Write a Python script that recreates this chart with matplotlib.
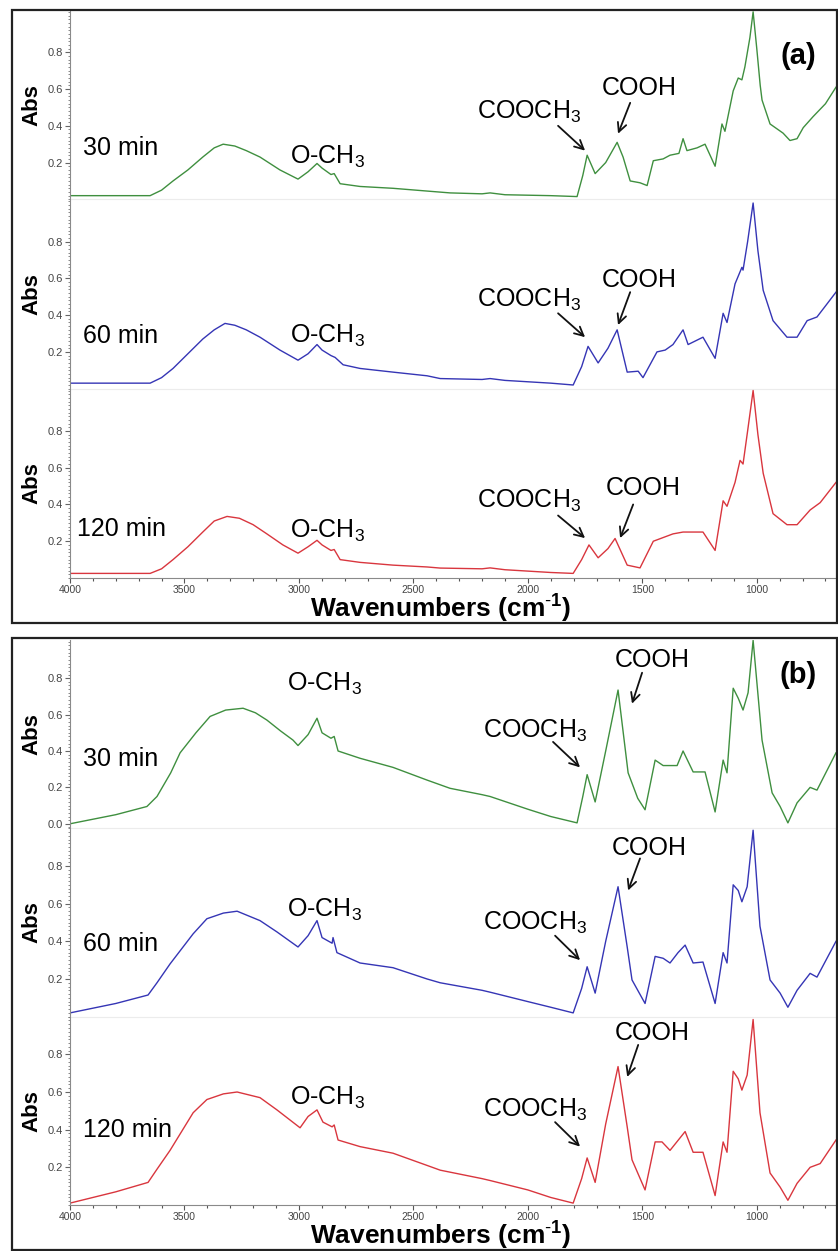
import matplotlib
matplotlib.use('Agg')
import matplotlib.pyplot as plt
from matplotlib.patches import Rectangle
from matplotlib.ticker import MultipleLocator

plt.rcParams['font.family'] = ['Liberation Sans', 'DejaVu Sans']
plt.rcParams['mathtext.fontset'] = 'custom'
plt.rcParams['mathtext.rm'] = 'Liberation Sans'
plt.rcParams['mathtext.bf'] = 'Liberation Sans:bold'
plt.rcParams['mathtext.it'] = 'Liberation Sans:italic'
plt.rcParams['mathtext.default'] = 'regular'

# ---- data (wavenumber cm-1, absorbance) ----
wn_a30 = [4000, 3800, 3650, 3600, 3550, 3485, 3420, 3370, 3331, 3280, 3230, 3170, 3083, 3004, 2960, 2921,
          2899, 2860, 2846, 2820, 2733, 2589, 2440, 2340, 2200, 2165, 2100, 1900, 1785, 1760, 1741, 1706,
          1660, 1610, 1584, 1553, 1510, 1479, 1452, 1409, 1379, 1340, 1322, 1305, 1261, 1226, 1182, 1152,
          1139, 1103, 1081, 1065, 1052, 1030, 1016, 1000, 985, 977, 942, 885, 855, 824, 797, 754, 700, 654]
ab_a30 = [0.02, 0.02, 0.02, 0.05, 0.10, 0.16, 0.23, 0.28, 0.30, 0.29, 0.265, 0.23, 0.16, 0.11, 0.15, 0.195,
          0.17, 0.135, 0.14, 0.085, 0.07, 0.06, 0.045, 0.035, 0.03, 0.035, 0.025, 0.02, 0.015, 0.13, 0.24, 0.14,
          0.20, 0.31, 0.23, 0.10, 0.09, 0.075, 0.21, 0.22, 0.24, 0.25, 0.33, 0.265, 0.28, 0.30, 0.18, 0.41,
          0.37, 0.59, 0.66, 0.65, 0.72, 0.88, 1.02, 0.82, 0.62, 0.54, 0.41, 0.36, 0.32, 0.33, 0.39, 0.45, 0.52, 0.61]

wn_a60 = [4000, 3800, 3650, 3600, 3550, 3485, 3420, 3370, 3323, 3280, 3230, 3170, 3083, 3004, 2960, 2921,
          2899, 2860, 2842, 2807, 2733, 2589, 2440, 2383, 2200, 2165, 2100, 1900, 1802, 1765, 1737, 1693,
          1650, 1610, 1566, 1518, 1497, 1436, 1400, 1366, 1322, 1300, 1235, 1182, 1147, 1130, 1095, 1065,
          1060, 1040, 1016, 995, 972, 929, 868, 824, 780, 737, 700, 654]
ab_a60 = [0.03, 0.03, 0.03, 0.06, 0.11, 0.19, 0.27, 0.32, 0.355, 0.345, 0.32, 0.28, 0.21, 0.155, 0.19, 0.24,
          0.21, 0.18, 0.17, 0.13, 0.11, 0.09, 0.07, 0.055, 0.05, 0.055, 0.045, 0.03, 0.02, 0.12, 0.23, 0.14,
          0.22, 0.32, 0.09, 0.095, 0.06, 0.20, 0.21, 0.24, 0.32, 0.24, 0.28, 0.165, 0.41, 0.36, 0.57, 0.66,
          0.645, 0.80, 1.01, 0.75, 0.535, 0.37, 0.28, 0.28, 0.37, 0.39, 0.45, 0.525]

wn_a120 = [4000, 3800, 3650, 3600, 3550, 3485, 3420, 3370, 3314, 3260, 3200, 3140, 3070, 3004, 2960, 2921,
           2899, 2860, 2846, 2820, 2733, 2589, 2440, 2383, 2200, 2165, 2100, 1900, 1802, 1765, 1733, 1693,
           1650, 1619, 1566, 1510, 1452, 1366, 1322, 1235, 1182, 1147, 1130, 1095, 1073, 1060, 1040, 1016,
           995, 972, 929, 868, 824, 767, 723, 654]
ab_a120 = [0.025, 0.025, 0.025, 0.05, 0.10, 0.17, 0.25, 0.31, 0.335, 0.325, 0.29, 0.24, 0.18, 0.135, 0.17, 0.205,
           0.18, 0.15, 0.155, 0.10, 0.085, 0.07, 0.06, 0.054, 0.05, 0.055, 0.045, 0.03, 0.025, 0.10, 0.18, 0.11,
           0.16, 0.215, 0.07, 0.055, 0.20, 0.24, 0.25, 0.25, 0.15, 0.42, 0.39, 0.52, 0.64, 0.62, 0.80, 1.02,
           0.78, 0.57, 0.35, 0.29, 0.29, 0.37, 0.41, 0.52]

wn_b30 = [4000, 3800, 3664, 3620, 3560, 3519, 3450, 3388, 3320, 3244, 3190, 3140, 3080, 3026, 3004, 2960,
          2921, 2899, 2860, 2846, 2829, 2733, 2589, 2440, 2340, 2200, 2165, 2000, 1900, 1785, 1760, 1741,
          1706, 1660, 1606, 1562, 1520, 1488, 1444, 1409, 1348, 1322, 1278, 1226, 1182, 1147, 1130, 1103,
          1081, 1060, 1038, 1016, 977, 933, 898, 864, 824, 767, 737, 654]
ab_b30 = [0.0, 0.05, 0.095, 0.15, 0.28, 0.39, 0.50, 0.59, 0.625, 0.635, 0.61, 0.57, 0.51, 0.46, 0.43, 0.49,
          0.58, 0.50, 0.47, 0.48, 0.40, 0.36, 0.31, 0.24, 0.195, 0.16, 0.15, 0.08, 0.04, 0.005, 0.15, 0.27,
          0.12, 0.40, 0.735, 0.28, 0.14, 0.077, 0.35, 0.32, 0.32, 0.40, 0.285, 0.285, 0.065, 0.35, 0.28, 0.745,
          0.69, 0.625, 0.72, 1.008, 0.46, 0.17, 0.095, 0.005, 0.115, 0.20, 0.185, 0.39]

wn_b60 = [4000, 3800, 3659, 3620, 3563, 3462, 3402, 3330, 3270, 3170, 3096, 3004, 2960, 2921, 2899, 2855,
          2851, 2834, 2733, 2589, 2440, 2383, 2200, 2165, 2000, 1900, 1802, 1765, 1741, 1706, 1660, 1606,
          1566, 1545, 1488, 1444, 1409, 1379, 1344, 1313, 1278, 1235, 1182, 1147, 1130, 1103, 1081, 1065,
          1042, 1016, 986, 942, 898, 864, 824, 767, 737, 654]
ab_b60 = [0.02, 0.07, 0.115, 0.18, 0.28, 0.44, 0.52, 0.55, 0.56, 0.51, 0.45, 0.37, 0.43, 0.51, 0.42, 0.39,
          0.42, 0.34, 0.285, 0.26, 0.20, 0.18, 0.14, 0.13, 0.08, 0.05, 0.02, 0.15, 0.265, 0.125, 0.40, 0.69,
          0.37, 0.195, 0.07, 0.32, 0.31, 0.285, 0.34, 0.38, 0.285, 0.29, 0.07, 0.34, 0.285, 0.70, 0.67, 0.61,
          0.69, 0.99, 0.48, 0.195, 0.125, 0.05, 0.14, 0.23, 0.21, 0.40]

wn_b120 = [4000, 3800, 3659, 3620, 3563, 3462, 3402, 3330, 3270, 3170, 3096, 2995, 2960, 2921, 2895, 2855,
           2846, 2829, 2733, 2589, 2440, 2383, 2200, 2165, 2000, 1900, 1802, 1765, 1741, 1706, 1660, 1606,
           1566, 1545, 1488, 1444, 1414, 1379, 1313, 1278, 1235, 1182, 1147, 1130, 1103, 1081, 1065, 1042,
           1016, 986, 942, 898, 864, 824, 767, 723, 654]
ab_b120 = [0.01, 0.07, 0.12, 0.19, 0.29, 0.49, 0.56, 0.59, 0.60, 0.57, 0.505, 0.41, 0.47, 0.505, 0.44, 0.415,
           0.425, 0.345, 0.31, 0.275, 0.21, 0.185, 0.14, 0.13, 0.08, 0.04, 0.01, 0.14, 0.25, 0.12, 0.43, 0.735,
           0.415, 0.24, 0.08, 0.335, 0.335, 0.29, 0.39, 0.28, 0.28, 0.05, 0.335, 0.28, 0.71, 0.67, 0.61, 0.69,
           0.985, 0.49, 0.17, 0.095, 0.025, 0.115, 0.20, 0.22, 0.345]

times = ['30 min', '60 min', '120 min']
colors = ['#3f8f3f', '#3535b5', '#d9363e']

W, H = 838, 1251
fig = plt.figure(figsize=(W / 100, H / 100), dpi=100)


def fx(px):
    return px / W


def fy(py):
    return 1 - py / H


# panel frames
for top, bot in [(10, 623), (638, 1250)]:
    fig.patches.append(Rectangle((fx(12), fy(bot)), fx(837) - fx(12), fy(top) - fy(bot),
                                 transform=fig.transFigure, fill=False, lw=1.6, ec='#222222'))

panels = [
    dict(top=10, bot=578, spectra=[(wn_a30, ab_a30), (wn_a60, ab_a60), (wn_a120, ab_a120)],
         ylims=[(0, 1.03), (0, 1.03), (0, 1.03)],
         lab_y=[0.24, 0.25, 0.23], lab_x=[3943, 3943, 3969],
         och3=[(3039, 0.195), (3039, 0.248), (3039, 0.217)],
         cooch3=[(2222, 0.44), (2222, 0.444), (2222, 0.38)],
         cooch3_arr=[((1868, 0.40), (1750, 0.265)), ((1868, 0.41), (1750, 0.28)), ((1868, 0.34), (1750, 0.217))],
         cooh=[(1676, 0.565), (1676, 0.553), (1658, 0.45)],
         cooh_arr=[((1553, 0.525), (1606, 0.357)), ((1553, 0.525), (1606, 0.346)), ((1540, 0.40), (1597, 0.217))],
         tag='(a)', tag_y=56, xlab_base=618),
    dict(top=640, bot=1205, spectra=[(wn_b30, ab_b30), (wn_b60, ab_b60), (wn_b120, ab_b120)],
         ylims=[(-0.025, 1.01), (0, 1.0), (0, 1.0)],
         lab_y=[0.32, 0.35, 0.36], lab_x=[3943, 3943, 3943],
         och3=[(3052, 0.73), (3052, 0.53), (3039, 0.53)],
         cooch3=[(2196, 0.47), (2196, 0.46), (2196, 0.47)],
         cooch3_arr=[((1890, 0.45), (1772, 0.31)), ((1881, 0.43), (1772, 0.30)), ((1881, 0.44), (1772, 0.31))],
         cooh=[(1619, 0.86), (1632, 0.86), (1619, 0.876)],
         cooh_arr=[((1501, 0.83), (1545, 0.66)), ((1510, 0.84), (1562, 0.67)), ((1518, 0.85), (1566, 0.68))],
         tag='(b)', tag_y=675, xlab_base=1245),
]

for p in panels:
    h = (p['bot'] - p['top']) / 3
    for k in range(3):
        t = p['top'] + k * h
        ax = fig.add_axes([fx(70), fy(t + h), fx(836.9) - fx(70), h / H])
        wn, ab = p['spectra'][k]
        ax.plot(wn, ab, color=colors[k], lw=1.0)
        ax.set_xlim(4000, 650)
        ax.set_ylim(*p['ylims'][k])
        ax.patch.set_alpha(0)
        for s in ['top', 'right']:
            ax.spines[s].set_visible(False)
        ax.spines['left'].set_color('#8a8a8a')
        if p['ylims'][k][0] < 0:
            ax.set_yticks([0.0, 0.2, 0.4, 0.6, 0.8])
        else:
            ax.set_yticks([0.2, 0.4, 0.6, 0.8])
        ax.yaxis.set_minor_locator(MultipleLocator(0.02))
        ax.tick_params(axis='y', which='major', length=3.5, width=0.8, color='#666666',
                       labelsize=8, labelcolor='#444444', pad=1.5)
        ax.tick_params(axis='y', which='minor', length=1.8, width=0.6, color='#777777')
        ax.xaxis.set_major_locator(MultipleLocator(500))
        ax.xaxis.set_minor_locator(MultipleLocator(100))
        if k < 2:
            ax.spines['bottom'].set_color('#ececec')
            ax.tick_params(axis='x', which='both', bottom=False, labelbottom=False)
        else:
            ax.spines['bottom'].set_color('#8a8a8a')
            ax.tick_params(axis='x', which='major', length=3.5, width=0.8, color='#555555',
                           labelsize=7.5, labelcolor='#444444', pad=1.5)
            ax.tick_params(axis='x', which='minor', length=2.5, width=0.8, color='#555555')

        ax.text(p['lab_x'][k], p['lab_y'][k], times[k], fontsize=18, va='baseline', ha='left')
        ax.text(p['och3'][k][0], p['och3'][k][1], 'O-CH$_3$', fontsize=18, va='baseline', ha='left')
        ax.text(p['cooch3'][k][0], p['cooch3'][k][1], 'COOCH$_3$', fontsize=18, va='baseline', ha='left')
        ax.text(p['cooh'][k][0], p['cooh'][k][1], 'COOH', fontsize=18, va='baseline', ha='left')
        for tail, head in [p['cooch3_arr'][k], p['cooh_arr'][k]]:
            ax.annotate('', xy=head, xytext=tail,
                        arrowprops=dict(arrowstyle='->', lw=1.3, color='#111111', mutation_scale=16,
                                        shrinkA=0, shrinkB=0))

        fig.text(fx(32), fy(t + h / 2), 'Abs', rotation=90, fontsize=16, fontweight='bold',
                 ha='center', va='center')

    fig.text(fx(798), fy(p['tag_y']), p['tag'], fontsize=21, fontweight='bold', ha='center', va='center')
    fig.text(fx(441), fy(p['xlab_base']), r'Wavenumbers (cm$^{\mathbf{\text{-}1}}$)', fontsize=19,
             fontweight='bold', ha='center', va='baseline')

fig.savefig('out.png', dpi=100)
